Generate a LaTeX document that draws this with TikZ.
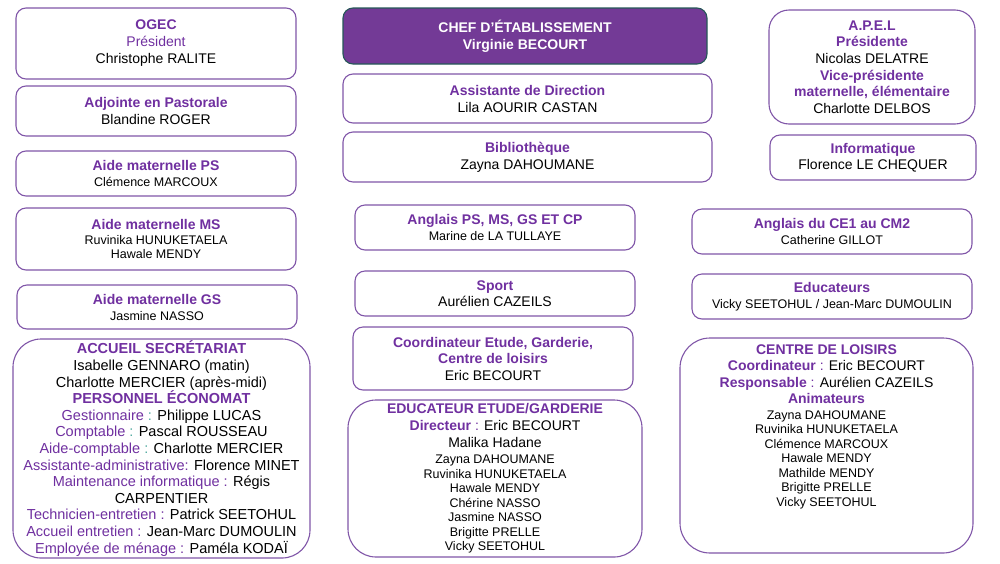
\documentclass[tikz,border=0pt]{standalone}
\usepackage{fontspec}
\setmainfont{Liberation Sans}
\definecolor{OrgPurple}{RGB}{112,48,160}
\definecolor{EdgePurple}{RGB}{128,86,168}
\definecolor{ChefFill}{RGB}{115,58,150}
\definecolor{ChefEdge}{RGB}{38,88,88}
\definecolor{ColonTeal}{RGB}{80,170,160}
\tikzset{
  unit/.style={draw=EdgePurple,line width=1.1pt,rounded corners=10pt,fill=white},
  bigunit/.style={unit,rounded corners=28pt},
  chefbox/.style={draw=ChefEdge,fill=ChefFill,line width=1.1pt,rounded corners=10pt},
  boxtext/.style={align=center,inner sep=0pt,font=\fontsize{14}{17}\selectfont},
  listtext/.style={boxtext,font=\fontsize{14.5}{16.6}\selectfont}
}
\newcommand{\ttl}[1]{{\color{OrgPurple}\bfseries #1}}
\newcommand{\fn}[1]{{\color{OrgPurple}#1}}
\newcommand{\sm}[1]{{\fontsize{12.5}{14.5}\selectfont #1}}
\newcommand{\tcl}{{\color{ColonTeal}:}}
\newcommand{\pcl}{{\color{OrgPurple}:}}

\begin{document}
\begin{tikzpicture}[x=1pt,y=-1pt]
  \useasboundingbox (0,0) rectangle (1000,563);
  % left column
  \draw[unit] (16,8) rectangle (296,79) node[pos=0.5,boxtext] (ogec)
    {\ttl{OGEC}\\ \fn{Président}\\ Christophe RALITE};
  \draw[unit] (16,86) rectangle (296,136) node[pos=0.5,boxtext] (pastorale)
    {\ttl{Adjointe en Pastorale}\\ Blandine ROGER};
  \draw[unit] (16,151) rectangle (296,196) node[pos=0.5,boxtext] (aidePS)
    {\ttl{Aide maternelle PS}\\[-1pt] \sm{Clémence MARCOUX}};
  \draw[unit] (16,208) rectangle (296,270) node[pos=0.5,boxtext] (aideMS)
    {\ttl{Aide maternelle MS}\\[-2pt] \sm{Ruvinika HUNUKETAELA}\\[-2.5pt] \sm{Hawale MENDY}};
  \draw[unit] (17,285) rectangle (297,329) node[pos=0.5,boxtext] (aideGS)
    {\ttl{Aide maternelle GS}\\[-1pt] \sm{Jasmine NASSO}};
  \draw[bigunit] (13,339) rectangle (310,558) node[pos=0.5,listtext] (accueil)
    {\ttl{ACCUEIL SECRÉTARIAT}\\ Isabelle GENNARO (matin)\\ Charlotte MERCIER (après-midi)\\
     \ttl{PERSONNEL ÉCONOMAT}\\ \fn{Gestionnaire }\tcl{} Philippe LUCAS\\
     \fn{Comptable }\tcl{} Pascal ROUSSEAU\\ \fn{Aide-comptable }\tcl{} Charlotte MERCIER\\
     \fn{Assistante-administrative:} Florence MINET\\ \fn{Maintenance informatique :} Régis\\
     CARPENTIER\\ \fn{Technicien-entretien :} Patrick SEETOHUL\\
     \fn{Accueil entretien :} Jean-Marc DUMOULIN\\ \fn{Employée de ménage :} Paméla KODAÏ};
  % middle column
  \draw[chefbox] (343,8) rectangle (707,64) node[pos=0.5,boxtext,text=white,font=\fontsize{14}{17}\selectfont\bfseries] (chef)
    {CHEF D’ÉTABLISSEMENT\\ Virginie BECOURT};
  \draw[unit] (343,74) rectangle (712,123) node[pos=0.5,boxtext] (assistante)
    {\ttl{Assistante de Direction}\\ Lila AOURIR CASTAN};
  \draw[unit] (343,132) rectangle (712,182) node[pos=0.5,boxtext] (biblio)
    {\ttl{Bibliothèque}\\ Zayna DAHOUMANE};
  \draw[unit] (355,205) rectangle (635,250) node[pos=0.5,boxtext] (anglaisPS)
    {\ttl{Anglais PS, MS, GS ET CP}\\[-1pt] \sm{Marine de LA TULLAYE}};
  \draw[unit] (355,271) rectangle (635,316) node[pos=0.5,boxtext] (sport)
    {\ttl{Sport}\\[-1pt] Aurélien CAZEILS};
  \draw[unit] (353,327) rectangle (633,390) node[pos=0.5,boxtext] (coord)
    {\ttl{Coordinateur Etude, Garderie,}\\[-0.5pt] \ttl{Centre de loisirs}\\[-0.5pt] Eric BECOURT};
  \draw[bigunit] (348,400) rectangle (642,557) node[pos=0.5,boxtext] (etude)
    {\ttl{EDUCATEUR ETUDE/GARDERIE}\\ \ttl{Directeur} \pcl{} Eric BECOURT\\ Malika Hadane\\[-1pt]
     \sm{Zayna DAHOUMANE}\\[-2.5pt] \sm{Ruvinika HUNUKETAELA}\\[-2.5pt] \sm{Hawale MENDY}\\[-2.5pt]
     \sm{Chérine NASSO}\\[-2.5pt] \sm{Jasmine NASSO}\\[-2.5pt] \sm{Brigitte PRELLE}\\[-2.5pt]
     \sm{Vicky SEETOHUL}};
  % right column
  \draw[unit,rounded corners=20pt] (769,10) rectangle (975,124) node[pos=0.5,boxtext,font=\fontsize{14}{16.6}\selectfont] (apel)
    {\ttl{A.P.E.L}\\ \ttl{Présidente}\\ Nicolas DELATRE\\ \ttl{Vice-présidente}\\
     \ttl{maternelle, élémentaire}\\ Charlotte DELBOS};
  \draw[unit] (770,135) rectangle (976,180) node[pos=0.5,boxtext] (info)
    {\ttl{Informatique}\\[-1pt] Florence LE CHEQUER};
  \draw[unit] (692,209) rectangle (972,254) node[pos=0.5,boxtext] (anglaisCE)
    {\ttl{Anglais du CE1 au CM2}\\[-1pt] \sm{Catherine GILLOT}};
  \draw[unit] (692,274) rectangle (972,319) node[pos=0.5,boxtext] (educ)
    {\ttl{Educateurs}\\[-1pt] \sm{Vicky SEETOHUL / Jean-Marc DUMOULIN}};
  \draw[bigunit,rounded corners=30pt] (680,338) rectangle (973,553) node[pos=0.5,yshift=19pt,boxtext,font=\fontsize{14}{16.5}\selectfont] (loisirs)
    {\ttl{CENTRE DE LOISIRS}\\ \ttl{Coordinateur} \pcl{} Eric BECOURT\\ \ttl{Responsable} \pcl{} Aurélien CAZEILS\\
     \ttl{Animateurs}\\[-1pt] \sm{Zayna DAHOUMANE}\\[-2pt] \sm{Ruvinika HUNUKETAELA}\\[-2pt]
     \sm{Clémence MARCOUX}\\[-2pt] \sm{Hawale MENDY}\\[-2pt] \sm{Mathilde MENDY}\\[-2pt]
     \sm{Brigitte PRELLE}\\[-2pt] \sm{Vicky SEETOHUL}};
\end{tikzpicture}
\end{document}
